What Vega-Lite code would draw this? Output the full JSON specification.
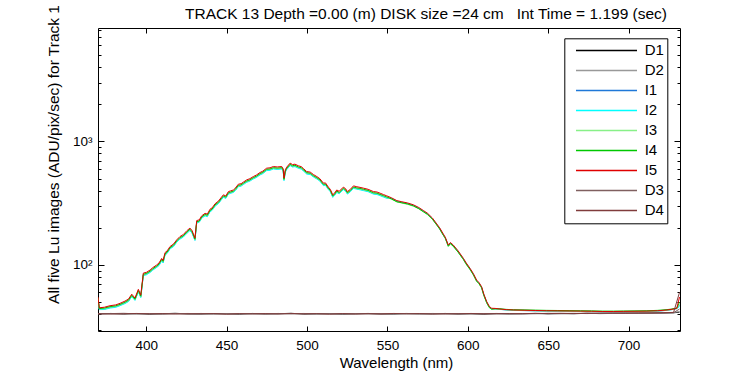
{
 "$schema": "https://vega.github.io/schema/vega-lite/v6.json",
 "width": 582,
 "height": 303,
 "autosize": {"type": "none"},
 "padding": {"left": 98, "top": 28, "right": 70, "bottom": 44},
 "background": "white",
 "config": {
  "font": "Liberation Sans",
  "view": {"stroke": null},
  "axis": {"domainColor": "black", "domainWidth": 1, "tickColor": "black", "labelColor": "black", "titleColor": "black", "grid": false, "labelFont": "Liberation Sans", "titleFont": "Liberation Sans", "titleFontWeight": "normal", "labelOverlap": false, "labelFlush": false}
 },
 "datasets": {
  "lit": [
   {"w":370,"I5":55,"I4":54,"I3":53.5,"I1":53,"I2":52.5},
   {"w":370.8,"I5":45,"I4":44.3,"I3":44,"I1":43.8,"I2":43.5},
   {"w":374,"I5":45.5,"I4":44.8,"I3":44.3,"I1":44,"I2":43.6},
   {"w":377.5,"I5":46.8,"I4":46,"I3":45.5,"I1":45.2,"I2":44.8},
   {"w":381,"I5":47.5,"I4":46.7,"I3":46.2,"I1":45.9,"I2":45.4},
   {"w":383.7,"I5":48.9,"I4":48,"I3":47.5,"I1":47.2,"I2":46.8},
   {"w":386.8,"I5":51,"I4":50,"I3":49.5,"I1":49.2,"I2":48.7},
   {"w":389,"I5":53,"I4":52,"I3":51.4,"I1":51.1,"I2":50.6},
   {"w":391,"I5":58,"I4":56.8,"I3":56.3,"I1":56,"I2":55.4},
   {"w":393,"I5":54,"I4":52.9,"I3":52.4,"I1":52.1,"I2":51.6},
   {"w":395.1,"I5":63.5,"I4":62.2,"I3":61.6,"I1":61.3,"I2":60.6},
   {"w":396.6,"I5":57,"I4":55.9,"I3":55.3,"I1":55,"I2":54.4},
   {"w":398.2,"I5":86,"I4":84.3,"I3":83.4,"I1":83,"I2":82.1},
   {"w":400,"I5":87,"I4":85.3,"I3":84.4,"I1":84,"I2":83.1},
   {"w":402.4,"I5":91,"I4":89.2,"I3":88.3,"I1":87.8,"I2":86.9},
   {"w":404,"I5":95,"I4":93.1,"I3":92.2,"I1":91.7,"I2":90.7},
   {"w":406.5,"I5":100,"I4":98,"I3":97,"I1":96.5,"I2":95.5},
   {"w":408,"I5":104,"I4":102,"I3":101,"I1":100,"I2":99},
   {"w":409.6,"I5":113,"I4":111,"I3":110,"I1":109,"I2":108},
   {"w":410.5,"I5":109,"I4":107,"I3":106,"I1":105,"I2":104},
   {"w":411.7,"I5":126,"I4":123,"I3":122,"I1":122,"I2":120},
   {"w":413,"I5":130,"I4":127,"I3":126,"I1":125,"I2":124},
   {"w":414.8,"I5":141,"I4":138,"I3":137,"I1":136,"I2":135},
   {"w":417,"I5":148,"I4":145,"I3":144,"I1":143,"I2":141},
   {"w":419,"I5":160,"I4":157,"I3":155,"I1":154,"I2":153},
   {"w":421,"I5":170,"I4":167,"I3":165,"I1":164,"I2":162},
   {"w":423,"I5":176,"I4":172,"I3":171,"I1":170,"I2":168},
   {"w":425.2,"I5":189,"I4":185,"I3":183,"I1":182,"I2":180},
   {"w":427.2,"I5":199,"I4":195,"I3":193,"I1":192,"I2":190},
   {"w":428.5,"I5":190,"I4":186,"I3":184,"I1":183,"I2":181},
   {"w":430.3,"I5":165,"I4":162,"I3":160,"I1":159,"I2":158},
   {"w":431.4,"I5":229,"I4":224,"I3":222,"I1":221,"I2":219},
   {"w":433,"I5":232,"I4":227,"I3":225,"I1":224,"I2":222},
   {"w":434.5,"I5":250,"I4":245,"I3":243,"I1":241,"I2":239},
   {"w":436.6,"I5":262,"I4":257,"I3":254,"I1":253,"I2":250},
   {"w":438,"I5":258,"I4":253,"I3":250,"I1":249,"I2":246},
   {"w":439.7,"I5":283,"I4":277,"I3":275,"I1":273,"I2":270},
   {"w":441,"I5":290,"I4":284,"I3":281,"I1":280,"I2":277},
   {"w":442.8,"I5":313,"I4":307,"I3":304,"I1":302,"I2":299},
   {"w":445,"I5":330,"I4":323,"I3":320,"I1":318,"I2":315},
   {"w":446.5,"I5":350,"I4":343,"I3":340,"I1":338,"I2":334},
   {"w":448,"I5":370,"I4":363,"I3":359,"I1":357,"I2":353},
   {"w":449.5,"I5":362,"I4":355,"I3":351,"I1":349,"I2":346},
   {"w":451.1,"I5":393,"I4":385,"I3":381,"I1":379,"I2":375},
   {"w":452.5,"I5":398,"I4":390,"I3":386,"I1":384,"I2":380},
   {"w":454.2,"I5":405,"I4":397,"I3":393,"I1":391,"I2":387},
   {"w":455.5,"I5":420,"I4":412,"I3":407,"I1":405,"I2":401},
   {"w":457.3,"I5":451,"I4":442,"I3":437,"I1":435,"I2":431},
   {"w":459,"I5":455,"I4":446,"I3":441,"I1":439,"I2":435},
   {"w":460.5,"I5":470,"I4":461,"I3":456,"I1":454,"I2":449},
   {"w":462.5,"I5":489,"I4":479,"I3":474,"I1":472,"I2":467},
   {"w":464.5,"I5":500,"I4":490,"I3":485,"I1":483,"I2":478},
   {"w":466.6,"I5":520,"I4":510,"I3":504,"I1":502,"I2":497},
   {"w":468.5,"I5":535,"I4":524,"I3":519,"I1":516,"I2":511},
   {"w":470.8,"I5":561,"I4":550,"I3":544,"I1":541,"I2":536},
   {"w":472.5,"I5":575,"I4":564,"I3":558,"I1":555,"I2":549},
   {"w":474.9,"I5":608,"I4":596,"I3":590,"I1":587,"I2":581},
   {"w":477,"I5":612,"I4":600,"I3":594,"I1":591,"I2":584},
   {"w":479.1,"I5":627,"I4":614,"I3":608,"I1":605,"I2":599},
   {"w":481.5,"I5":622,"I4":610,"I3":603,"I1":600,"I2":594},
   {"w":484.3,"I5":627,"I4":614,"I3":608,"I1":605,"I2":599},
   {"w":485.2,"I5":600,"I4":588,"I3":582,"I1":579,"I2":573},
   {"w":485.7,"I5":505,"I4":495,"I3":490,"I1":487,"I2":482},
   {"w":486.5,"I5":590,"I4":578,"I3":572,"I1":569,"I2":563},
   {"w":487.4,"I5":620,"I4":608,"I3":601,"I1":598,"I2":592},
   {"w":489.5,"I5":668,"I4":655,"I3":648,"I1":645,"I2":638},
   {"w":491,"I5":650,"I4":637,"I3":631,"I1":627,"I2":621},
   {"w":492.5,"I5":655,"I4":642,"I3":635,"I1":632,"I2":626},
   {"w":494.6,"I5":636,"I4":623,"I3":617,"I1":614,"I2":607},
   {"w":496.5,"I5":625,"I4":613,"I3":606,"I1":603,"I2":597},
   {"w":498,"I5":600,"I4":588,"I3":582,"I1":579,"I2":573},
   {"w":499.8,"I5":571,"I4":560,"I3":554,"I1":551,"I2":545},
   {"w":502,"I5":565,"I4":554,"I3":548,"I1":545,"I2":540},
   {"w":504,"I5":540,"I4":529,"I3":524,"I1":521,"I2":516},
   {"w":506.1,"I5":520,"I4":510,"I3":504,"I1":502,"I2":497},
   {"w":508,"I5":500,"I4":490,"I3":485,"I1":483,"I2":478},
   {"w":510.2,"I5":460,"I4":451,"I3":446,"I1":444,"I2":439},
   {"w":511.5,"I5":462,"I4":453,"I3":448,"I1":446,"I2":441},
   {"w":513.3,"I5":427,"I4":418,"I3":414,"I1":412,"I2":408},
   {"w":514.5,"I5":410,"I4":402,"I3":398,"I1":396,"I2":392},
   {"w":516,"I5":370,"I4":363,"I3":359,"I1":357,"I2":353},
   {"w":517,"I5":380,"I4":372,"I3":369,"I1":367,"I2":363},
   {"w":518.5,"I5":405,"I4":397,"I3":393,"I1":391,"I2":387},
   {"w":520,"I5":395,"I4":387,"I3":383,"I1":381,"I2":377},
   {"w":522.6,"I5":427,"I4":418,"I3":414,"I1":412,"I2":408},
   {"w":524,"I5":415,"I4":407,"I3":403,"I1":400,"I2":396},
   {"w":525.1,"I5":393,"I4":385,"I3":381,"I1":379,"I2":375},
   {"w":527,"I5":410,"I4":402,"I3":398,"I1":396,"I2":392},
   {"w":528.9,"I5":437,"I4":428,"I3":424,"I1":422,"I2":417},
   {"w":531,"I5":430,"I4":421,"I3":417,"I1":415,"I2":411},
   {"w":533,"I5":425,"I4":417,"I3":412,"I1":410,"I2":406},
   {"w":535.1,"I5":419,"I4":411,"I3":406,"I1":404,"I2":400},
   {"w":538,"I5":410,"I4":402,"I3":398,"I1":396,"I2":392},
   {"w":541.3,"I5":393,"I4":385,"I3":381,"I1":379,"I2":375},
   {"w":543.5,"I5":390,"I4":382,"I3":378,"I1":376,"I2":372},
   {"w":545.5,"I5":381,"I4":373,"I3":370,"I1":368,"I2":364},
   {"w":547.5,"I5":372,"I4":365,"I3":361,"I1":359,"I2":355},
   {"w":549.6,"I5":363,"I4":356,"I3":352,"I1":350,"I2":347},
   {"w":552.5,"I5":350,"I4":343,"I3":341,"I1":345,"I2":347},
   {"w":555.9,"I5":332,"I4":325,"I3":324,"I1":327,"I2":329},
   {"w":559,"I5":325,"I4":319,"I3":317,"I1":320,"I2":322},
   {"w":562.5,"I5":318,"I4":312,"I3":310,"I1":313,"I2":315},
   {"w":566.2,"I5":307,"I4":301,"I3":299,"I1":302,"I2":304},
   {"w":569.5,"I5":292,"I4":286,"I3":285,"I1":288,"I2":289},
   {"w":572.4,"I5":276,"I4":270,"I3":269,"I1":272,"I2":273},
   {"w":575,"I5":262,"I4":257,"I3":255,"I1":258,"I2":259},
   {"w":578,"I5":240,"I4":235,"I3":234,"I1":236,"I2":238},
   {"w":580.7,"I5":215,"I4":211,"I3":210,"I1":212,"I2":213},
   {"w":582.5,"I5":200,"I4":196,"I3":195,"I1":197,"I2":198},
   {"w":584.8,"I5":178,"I4":174,"I3":174,"I1":175,"I2":176},
   {"w":586,"I5":168,"I4":165,"I3":164,"I1":165,"I2":166},
   {"w":587.9,"I5":145,"I4":142,"I3":141,"I1":143,"I2":144},
   {"w":589.2,"I5":152,"I4":149,"I3":148,"I1":150,"I2":150},
   {"w":591,"I5":145,"I4":142,"I3":141,"I1":143,"I2":144},
   {"w":594,"I5":130,"I4":127,"I3":127,"I1":128,"I2":129},
   {"w":597.3,"I5":113,"I4":111,"I3":110,"I1":111,"I2":112},
   {"w":599,"I5":104,"I4":102,"I3":101,"I1":102,"I2":103},
   {"w":601.4,"I5":94,"I4":92.1,"I3":91.7,"I1":92.6,"I2":93.1},
   {"w":603.5,"I5":85,"I4":83.3,"I3":82.9,"I1":83.7,"I2":84.2},
   {"w":605.5,"I5":75.5,"I4":74,"I3":73.6,"I1":74.4,"I2":74.7},
   {"w":607,"I5":72,"I4":70.6,"I3":70.2,"I1":70.9,"I2":71.3},
   {"w":608.6,"I5":66.7,"I4":65.4,"I3":65,"I1":65.7,"I2":66},
   {"w":610,"I5":58,"I4":56.8,"I3":56.6,"I1":57.1,"I2":57.4},
   {"w":611.8,"I5":50.4,"I4":49.4,"I3":49.1,"I1":49.6,"I2":49.9},
   {"w":613.5,"I5":46,"I4":45.1,"I3":44.9,"I1":45.3,"I2":45.5},
   {"w":614.9,"I5":44.6,"I4":43.9,"I3":43.8,"I1":44,"I2":44.2},
   {"w":617,"I5":44.5,"I4":44.2,"I3":44,"I1":44.1,"I2":44.3},
   {"w":620,"I5":44,"I4":44.2,"I3":43.8,"I1":43.7,"I2":43.9},
   {"w":624,"I5":43.5,"I4":43.7,"I3":43.3,"I1":43.2,"I2":43.4},
   {"w":628.3,"I5":43.2,"I4":43.4,"I3":43,"I1":42.9,"I2":43.1},
   {"w":635,"I5":43,"I4":43.3,"I3":42.8,"I1":42.7,"I2":42.9},
   {"w":642,"I5":42.8,"I4":43.1,"I3":42.6,"I1":42.5,"I2":42.7},
   {"w":649,"I5":42.6,"I4":42.9,"I3":42.4,"I1":42.3,"I2":42.5},
   {"w":656,"I5":42.5,"I4":42.8,"I3":42.3,"I1":42.2,"I2":42.4},
   {"w":663,"I5":42.4,"I4":42.7,"I3":42.2,"I1":42.1,"I2":42.3},
   {"w":670,"I5":42.3,"I4":42.6,"I3":42.1,"I1":42,"I2":42.2},
   {"w":677,"I5":42.2,"I4":42.5,"I3":42,"I1":41.9,"I2":42.1},
   {"w":684,"I5":42,"I4":42.3,"I3":41.8,"I1":41.7,"I2":41.9},
   {"w":690.7,"I5":42,"I4":42.3,"I3":41.8,"I1":41.7,"I2":41.9},
   {"w":697,"I5":42.1,"I4":42.4,"I3":41.9,"I1":41.8,"I2":42},
   {"w":704,"I5":42.2,"I4":42.5,"I3":42,"I1":41.9,"I2":42.1},
   {"w":711.4,"I5":42.3,"I4":42.6,"I3":42.1,"I1":42,"I2":42.2},
   {"w":718,"I5":42.6,"I4":42.9,"I3":42.4,"I1":42.3,"I2":42.5},
   {"w":723.9,"I5":43.2,"I4":43.5,"I3":43,"I1":42.9,"I2":43.1},
   {"w":727,"I5":43.8,"I4":44,"I3":43.6,"I1":43.5,"I2":43.7},
   {"w":730,"I5":44.6,"I4":44.8,"I3":44.4,"I1":44.3,"I2":44.5},
   {"w":731.7,"I5":55,"I4":50,"I3":48,"I1":47,"I2":46}
  ],
  "dark": [
   {"w":370,"D1":40.2,"D2":40.4,"D3":40.1,"D4":40.3},
   {"w":378,"D1":40.5,"D2":40.2,"D3":40.4,"D4":40.1},
   {"w":386,"D1":40.1,"D2":40.3,"D3":40.6,"D4":40.2},
   {"w":394,"D1":40.4,"D2":40.1,"D3":40.2,"D4":40.5},
   {"w":402,"D1":40,"D2":40.4,"D3":40.3,"D4":40.2},
   {"w":410,"D1":40.3,"D2":40.2,"D3":40,"D4":40.4},
   {"w":418,"D1":40.6,"D2":40.3,"D3":40.4,"D4":40.1},
   {"w":426,"D1":40.2,"D2":40.5,"D3":40.1,"D4":40.3},
   {"w":434,"D1":40.1,"D2":40.2,"D3":40.5,"D4":40.2},
   {"w":442,"D1":40.4,"D2":40,"D3":40.2,"D4":40.4},
   {"w":450,"D1":40.3,"D2":40.4,"D3":40.1,"D4":40},
   {"w":458,"D1":40,"D2":40.3,"D3":40.4,"D4":40.3},
   {"w":466,"D1":40.5,"D2":40.1,"D3":40.3,"D4":40.2},
   {"w":474,"D1":40.2,"D2":40.4,"D3":40,"D4":40.4},
   {"w":482,"D1":40.3,"D2":40.2,"D3":40.5,"D4":40.1},
   {"w":490,"D1":40.6,"D2":40.3,"D3":40.2,"D4":40.5},
   {"w":498,"D1":40.1,"D2":40.5,"D3":40.3,"D4":40.2},
   {"w":506,"D1":40.2,"D2":40.1,"D3":40.4,"D4":40.3},
   {"w":514,"D1":40.4,"D2":40.3,"D3":40.1,"D4":40},
   {"w":522,"D1":40,"D2":40.2,"D3":40.3,"D4":40.4},
   {"w":530,"D1":40.3,"D2":40.4,"D3":40.2,"D4":40.1},
   {"w":538,"D1":40.5,"D2":40.1,"D3":40.4,"D4":40.3},
   {"w":546,"D1":40.2,"D2":40.3,"D3":40,"D4":40.2},
   {"w":554,"D1":40.1,"D2":40.4,"D3":40.3,"D4":40.5},
   {"w":562,"D1":40.4,"D2":40.2,"D3":40.5,"D4":40.2},
   {"w":570,"D1":40.3,"D2":40.1,"D3":40.2,"D4":40.4},
   {"w":578,"D1":40.2,"D2":40.5,"D3":40.3,"D4":40.1},
   {"w":586,"D1":40.5,"D2":40.3,"D3":40.1,"D4":40.3},
   {"w":594,"D1":40.1,"D2":40.2,"D3":40.4,"D4":40.2},
   {"w":602,"D1":40.3,"D2":40.4,"D3":40.2,"D4":40.5},
   {"w":610,"D1":40,"D2":40.3,"D3":40.3,"D4":40.2},
   {"w":618,"D1":40.4,"D2":40.1,"D3":40.5,"D4":40.3},
   {"w":626,"D1":40.2,"D2":40.4,"D3":40.2,"D4":40.4},
   {"w":634,"D1":40.3,"D2":40.2,"D3":40.4,"D4":40.3},
   {"w":642,"D1":40.5,"D2":40.4,"D3":40.3,"D4":40.6},
   {"w":650,"D1":40.2,"D2":40.5,"D3":40.6,"D4":40.4},
   {"w":658,"D1":40.4,"D2":40.3,"D3":40.5,"D4":40.6},
   {"w":666,"D1":40.3,"D2":40.6,"D3":40.4,"D4":40.5},
   {"w":674,"D1":40.6,"D2":40.4,"D3":40.7,"D4":40.5},
   {"w":682,"D1":40.4,"D2":40.6,"D3":40.5,"D4":40.7},
   {"w":690,"D1":40.5,"D2":40.7,"D3":40.6,"D4":40.8},
   {"w":698,"D1":40.7,"D2":40.5,"D3":40.8,"D4":40.6},
   {"w":706,"D1":40.6,"D2":40.8,"D3":40.7,"D4":40.9},
   {"w":714,"D1":40.8,"D2":40.7,"D3":40.9,"D4":40.8},
   {"w":722,"D1":40.9,"D2":41,"D3":40.8,"D4":41.1},
   {"w":728,"D1":41,"D2":41.2,"D3":41.1,"D4":41.3},
   {"w":731.7,"D1":41.5,"D2":42,"D3":44,"D4":60}
  ]
 },
 "layer": [
  {
   "data": {"name": "lit"},
   "transform": [{"fold": ["I1", "I2", "I3", "I4", "I5"], "as": ["series", "v"]}],
   "mark": {"type": "line", "strokeWidth": 1, "clip": true},
   "encoding": {
    "x": {"field": "w", "type": "quantitative", "scale": {"domain": [370, 732], "nice": false, "zero": false},
     "axis": {"orient": "bottom", "values": [400, 450, 500, 550, 600, 650, 700], "tickSize": -5, "labelPadding": 23, "labelBaseline": "alphabetic", "labelFontSize": 13.5, "title": "Wavelength (nm)", "titleFontSize": 15, "titleX": 298, "titleY": 36, "titleBaseline": "alphabetic"}},
    "y": {"field": "v", "type": "quantitative", "scale": {"type": "log", "domain": [29.2, 8300], "nice": false},
     "axis": {"orient": "left", "values": [30, 40, 50, 60, 70, 80, 90, 100, 200, 300, 400, 500, 600, 700, 800, 900, 1000, 2000, 3000, 4000, 5000, 6000, 7000, 8000],
      "tickSize": {"condition": {"test": "datum.value == 100 || datum.value == 1000", "value": -6}, "value": -3},
      "labelExpr": "datum.value == 100 ? '10²' : (datum.value == 1000 ? '10³' : '')",
      "labelFontSize": 13.5, "labelPadding": 12, "labelBaseline": "middle",
      "title": "All five Lu images (ADU/pix/sec) for Track 1", "titleFontSize": 15.5, "titleX": -39.5, "titleY": 126, "titleAngle": -90, "titleAlign": "center", "titleBaseline": "alphabetic"}},
    "color": {"field": "series", "type": "nominal",
     "scale": {"domain": ["D1", "D2", "I1", "I2", "I3", "I4", "I5", "D3", "D4"], "range": ["#000000", "#999999", "#1f78d8", "#00ffff", "#88f088", "#00c800", "#e00000", "#806060", "#803c3c"]},
     "legend": {"title": null, "orient": "none", "legendX": 466.3, "legendY": 10.3, "direction": "vertical", "symbolType": "stroke", "symbolSize": 3721, "symbolStrokeWidth": 1.5, "clipHeight": 19.3, "rowPadding": 0, "padding": 2.5, "symbolOffset": 8.2, "labelOffset": 6.7, "labelFontSize": 15, "labelFont": "Liberation Sans", "labelColor": "black", "strokeColor": "black", "fillColor": "white", "labelExpr": "datum.label + '\u00a0\u00a0\u00a0\u00a0\u00a0'"}}
   }
  },
  {
   "data": {"name": "dark"},
   "transform": [{"fold": ["D1", "D2", "D3", "D4"], "as": ["series", "v"]}],
   "mark": {"type": "line", "strokeWidth": 1, "clip": true},
   "encoding": {
    "x": {"field": "w", "type": "quantitative", "scale": {"domain": [370, 732], "nice": false, "zero": false},
     "axis": {"orient": "top", "values": [400, 450, 500, 550, 600, 650, 700], "tickSize": -5, "labels": false,
      "title": "TRACK 13 Depth =0.00 (m) DISK size =24 cm\u00a0\u00a0 Int Time = 1.199 (sec)", "titleFontSize": 15.5, "titleX": 327.5, "titleY": -10, "titleBaseline": "alphabetic", "titleAlign": "center"}},
    "y": {"field": "v", "type": "quantitative", "scale": {"type": "log", "domain": [29.2, 8300], "nice": false},
     "axis": {"orient": "right", "values": [30, 40, 50, 60, 70, 80, 90, 100, 200, 300, 400, 500, 600, 700, 800, 900, 1000, 2000, 3000, 4000, 5000, 6000, 7000, 8000],
      "tickSize": {"condition": {"test": "datum.value == 100 || datum.value == 1000", "value": -6}, "value": -3},
      "labels": false, "title": null}},
    "color": {"field": "series", "type": "nominal",
     "scale": {"domain": ["D1", "D2", "I1", "I2", "I3", "I4", "I5", "D3", "D4"], "range": ["#000000", "#999999", "#1f78d8", "#00ffff", "#88f088", "#00c800", "#e00000", "#806060", "#803c3c"]}}
   }
  }
 ],
 "resolve": {"axis": {"x": "independent", "y": "independent"}}
}
